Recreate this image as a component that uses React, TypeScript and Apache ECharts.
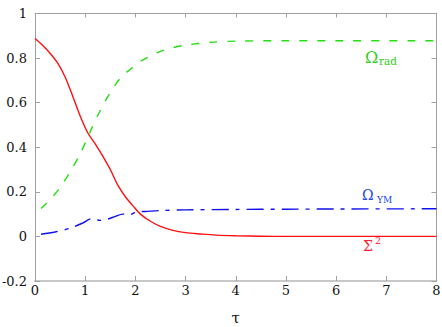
import React, { useEffect, useRef } from "react";
import * as echarts from "echarts";

const sigmaTau = [0, 0.15, 0.3, 0.45, 0.6, 0.75, 0.9, 1.05, 1.2, 1.35, 1.5, 1.65, 1.8, 1.95, 2.1, 2.3, 2.5, 2.75, 3.0, 3.3, 3.6, 4.0, 4.5, 5, 6, 7, 8];
const sigmaVal = [0.888, 0.858, 0.822, 0.778, 0.715, 0.63, 0.54, 0.465, 0.415, 0.36, 0.3, 0.23, 0.178, 0.138, 0.1, 0.068, 0.045, 0.027, 0.017, 0.011, 0.006, 0.003, 0.001, 0, 0, 0, 0];

const radTau = [0.12, 0.3, 0.5, 0.7, 0.9, 1.1, 1.3, 1.5, 1.7, 1.9, 2.1, 2.3, 2.5, 2.75, 3.0, 3.5, 4.0, 5, 6, 8];
const radVal = [0.125, 0.165, 0.22, 0.29, 0.37, 0.47, 0.565, 0.645, 0.71, 0.75, 0.785, 0.81, 0.83, 0.847, 0.858, 0.871, 0.876, 0.878, 0.878, 0.878];

const ymTau = [0.12, 0.4, 0.7, 0.95, 1.12, 1.3, 1.45, 1.6, 1.75, 1.9, 2.02, 2.2, 2.5, 3.0, 4.0, 5.0, 6.0, 8.0];
const ymVal = [0.01, 0.02, 0.037, 0.06, 0.079, 0.072, 0.078, 0.09, 0.1, 0.098, 0.11, 0.112, 0.116, 0.119, 0.121, 0.122, 0.123, 0.124];

const xTicks = [0, 1, 2, 3, 4, 5, 6, 7, 8];
const yTicks = [-0.2, 0, 0.2, 0.4, 0.6, 0.8, 1];

const FONT = "DejaVu Serif";
const RED = "#ff1010";
const GREEN = "#22e010";
const BLUE = "#1010f0";

const pairs = (xs: number[], ys: number[]) => xs.map((x, i) => [x, ys[i]]);

export default function App() {
  const ref = useRef<HTMLDivElement>(null);
  useEffect(() => {
    if (!ref.current) return;
    const chart = echarts.init(ref.current, undefined, { renderer: "svg" });
    const axisGray = "#a0a0a0";
    const fmt = (v: number) => String(+(+v).toFixed(1));
    const txt = (text: string, x: number, y: number, size: number, fill: string) => ({
      type: "text",
      x,
      y,
      style: { text, fill, fontFamily: FONT, fontSize: size, verticalAlign: "middle" },
    });
    chart.setOption({
      animation: false,
      grid: { left: 35, right: 5.5, top: 13.5, bottom: 46, outerBoundsMode: "none", containLabel: false },
      xAxis: [
        {
          type: "value",
          min: xTicks[0],
          max: xTicks[xTicks.length - 1],
          interval: 1,
          name: "τ",
          nameLocation: "middle",
          nameGap: 29,
          nameTextStyle: { fontFamily: FONT, fontSize: 15, color: "#111" },
          axisLine: { show: true, onZero: false, lineStyle: { color: "#c8c8c8", width: 2 } },
          axisTick: { show: true, inside: true, length: 5, lineStyle: { color: axisGray } },
          axisLabel: { fontFamily: FONT, fontSize: 13, color: "#111", margin: 3, formatter: fmt },
          splitLine: { show: false },
        },
        {
          type: "value",
          position: "top",
          min: xTicks[0],
          max: xTicks[xTicks.length - 1],
          interval: 1,
          axisLine: { show: true, onZero: false, lineStyle: { color: axisGray, width: 1 } },
          axisTick: { show: true, inside: true, length: 4, lineStyle: { color: axisGray } },
          axisLabel: { show: false },
          splitLine: { show: false },
        },
      ],
      yAxis: [
        {
          type: "value",
          min: yTicks[0],
          max: yTicks[yTicks.length - 1],
          interval: 0.2,
          axisLine: { show: true, onZero: false, lineStyle: { color: axisGray, width: 1 } },
          axisTick: { show: true, inside: true, length: 5, lineStyle: { color: axisGray } },
          axisLabel: { fontFamily: FONT, fontSize: 13, color: "#111", margin: 8, formatter: fmt },
          splitLine: { show: false },
        },
        {
          type: "value",
          position: "right",
          min: yTicks[0],
          max: yTicks[yTicks.length - 1],
          interval: 0.2,
          axisLine: { show: true, onZero: false, lineStyle: { color: axisGray, width: 1 } },
          axisTick: { show: true, inside: true, length: 5, lineStyle: { color: axisGray } },
          axisLabel: { show: false },
          splitLine: { show: false },
        },
      ],
      series: [
        {
          type: "line",
          data: pairs(radTau, radVal),
          smooth: 0.3,
          symbol: "none",
          lineStyle: { color: GREEN, width: 1.4, type: [8, 10] },
        },
        {
          type: "line",
          data: pairs(ymTau, ymVal),
          smooth: 0.3,
          symbol: "none",
          lineStyle: { color: BLUE, width: 1.4, type: [17, 7, 4, 7] },
        },
        {
          type: "line",
          data: pairs(sigmaTau, sigmaVal),
          smooth: 0.3,
          symbol: "none",
          lineStyle: { color: RED, width: 1.4, type: "solid" },
        },
      ],
      graphic: [
        txt("Ω", 365, 57.5, 16, "#33cc22"),
        txt("rad", 379, 60.5, 10.5, "#33cc22"),
        txt("Ω", 362, 194.5, 14, "#2244ee"),
        txt("YM", 377, 200, 9, "#2244ee"),
        txt("Σ", 363, 245.5, 14, "#ff2030"),
        txt("2", 375, 240.5, 9.5, "#ff2030"),
      ],
    });
    return () => chart.dispose();
  }, []);
  return <div ref={ref} style={{ width: 442, height: 327, position: "absolute", left: 0, top: 0 }} />;
}
